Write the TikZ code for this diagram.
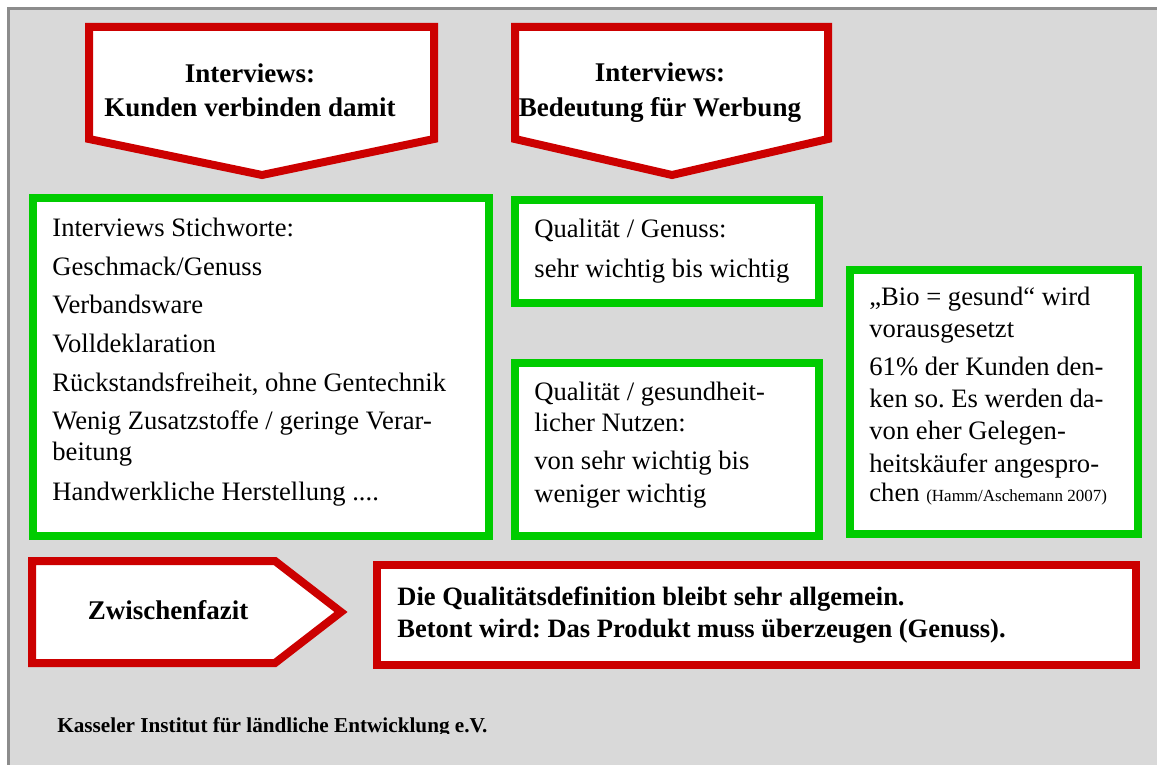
\documentclass[tikz,border=0pt]{standalone}
\usepackage{fontspec}
\setmainfont{Liberation Serif}
\usepackage{tikz}
\frenchspacing
\definecolor{kired}{HTML}{CC0000}
\definecolor{kigreen}{HTML}{00CC00}
\definecolor{kigray}{HTML}{D9D9D9}
\definecolor{kiframe}{HTML}{8C8C8C}
\tikzset{
	redshape/.style={draw=kired, line width=4pt, fill=white, line join=miter},
	greenbox/.style={draw=kigreen, line width=4pt, fill=white},
	boxtext/.style={anchor=base west, inner sep=0pt, font=\fontsize{13.3}{15.5}\selectfont},
	headtext/.style={anchor=base, inner sep=0pt, font=\fontsize{13.5}{15.5}\selectfont\bfseries},
	fazittext/.style={anchor=base west, inner sep=0pt, font=\fontsize{13.25}{15.5}\selectfont\bfseries}
}

\begin{document}
\begin{tikzpicture}[x=0.5pt, y=-0.5pt]
	\useasboundingbox (0,0) rectangle (1157,765);
	\fill[kigray] (8.5,8.5) rectangle (1157,765);
	\draw[kiframe, line width=1.5pt] (8.5,765) -- (8.5,8.5) -- (1157,8.5);
	% Kopfpfeile
	\draw[redshape] (89,27) -- (434,27) -- (434,139) -- (262,175) -- (89,139) -- cycle;
	\draw[redshape] (515,27) -- (828,27) -- (828,139) -- (672,175) -- (515,139) -- cycle;
	\node[headtext] (kunden1) at (250,83) {Interviews:};
	\node[headtext] (kunden2) at (250,117) {Kunden verbinden damit};
	\node[headtext] (werbung1) at (660,82) {Interviews:};
	\node[headtext] (werbung2) at (660,117) {Bedeutung für Werbung};
	% Kaesten
	\draw[greenbox] (33,198) rectangle (489,536);
	\draw[greenbox] (515,200) rectangle (819,303);
	\draw[greenbox] (515,363) rectangle (819,536);
	\draw[greenbox] (850,270) rectangle (1138,534);
	\foreach \y/\t [count=\i] in {236/{Interviews Stichworte:}, 275/{Geschmack/Genuss},
		313/{Verbandsware}, 352/{Volldeklaration}, 391/{Rückstandsfreiheit, ohne Gentechnik},
		429/{Wenig Zusatzstoffe / geringe Verar-}, 460/{beitung}, 500/{Handwerkliche Herstellung ....}}
		\node[boxtext] (stich\i) at (52,\y) {\t};
	\foreach \y/\t [count=\i] in {237/{Qualität / Genuss:}, 277/{sehr wichtig bis wichtig}}
		\node[boxtext] (genuss\i) at (534,\y) {\t};
	\foreach \y/\t [count=\i] in {400/{Qualität / gesundheit-}, 431/{licher Nutzen:},
		469/{von sehr wichtig bis}, 502/{weniger wichtig}}
		\node[boxtext] (nutzen\i) at (534,\y) {\t};
	\foreach \y/\t [count=\i] in {305/{„Bio = gesund“ wird}, 337/{vorausgesetzt},
		375/{61\% der Kunden den-}, 407/{ken so. Es werden da-}, 439/{von eher Gelegen-},
		472/{heitskäufer angespro-}}
		\node[boxtext] (bio\i) at (869,\y) {\t};
	\node[boxtext] (bio7) at (869,501) {chen {\fontsize{8.5}{10}\selectfont(Hamm/Aschemann 2007)}};
	% Zwischenfazit
	\draw[redshape] (32,561) -- (275,561) -- (341,612) -- (275,663) -- (32,663) -- cycle;
	\draw[redshape] (377,565) rectangle (1136,665);
	\node[headtext] (fazit) at (168,619) {Zwischenfazit};
	\node[fazittext] (fazit1) at (397,605) {Die Qualitätsdefinition bleibt sehr allgemein.};
	\node[fazittext] (fazit2) at (397,637) {Betont wird: Das Produkt muss überzeugen (Genuss).};
	\begin{scope}
		\clip (0,0) rectangle (1157,733);
		\node[anchor=base west, inner sep=0pt, font=\fontsize{10.6}{12}\selectfont\bfseries] (kasseler) at (57,732) {Kasseler Institut für ländliche Entwicklung e.V.};
	\end{scope}
\end{tikzpicture}
\end{document}
